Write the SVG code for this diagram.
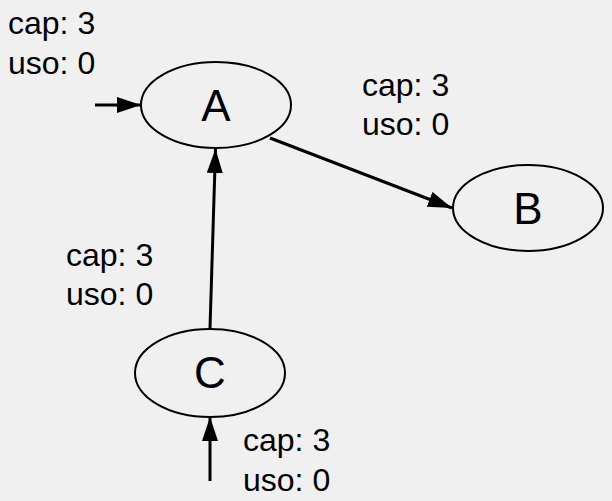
<svg xmlns="http://www.w3.org/2000/svg" width="612" height="501" viewBox="0 0 612 501">
<defs>
<style>
.node{fill:none;stroke:#000;stroke-width:2}
.lbl{font-family:"Liberation Sans",Arial,sans-serif;font-size:44px;fill:#000;text-anchor:middle}
.cap{font-family:"Liberation Sans",Arial,sans-serif;font-size:32px;fill:#000}
.edge{stroke:#000;stroke-width:3;fill:none}
</style>
<marker id="arr" markerUnits="userSpaceOnUse" markerWidth="24" markerHeight="18" refX="24" refY="8" orient="auto">
<path d="M0,0 L24,8 L0,16 Z" fill="#000"/>
</marker>
</defs>
<rect width="612" height="501" fill="#f0f0f0"/>
<g id="connectors">
<line class="edge" x1="95" y1="105" x2="141" y2="105" marker-end="url(#arr)"/>
<line class="edge" x1="270" y1="138" x2="452" y2="208" marker-end="url(#arr)"/>
<line class="edge" x1="210" y1="328" x2="215.5" y2="149" marker-end="url(#arr)"/>
<line class="edge" x1="210" y1="481" x2="210" y2="417" marker-end="url(#arr)"/>
</g>
<g id="node-A">
<ellipse class="node" cx="216" cy="105" rx="75" ry="43"/>
<text class="lbl" x="216" y="121">A</text>
</g>
<g id="node-B">
<ellipse class="node" cx="528" cy="208" rx="75" ry="43"/>
<text class="lbl" x="528" y="224">B</text>
</g>
<g id="node-C">
<ellipse class="node" cx="210" cy="373" rx="75" ry="44"/>
<text class="lbl" x="210" y="388">C</text>
</g>
<g id="labels">
<text class="cap" x="8" y="34">cap: 3</text>
<text class="cap" x="8" y="74">uso: 0</text>
<text class="cap" x="362" y="96">cap: 3</text>
<text class="cap" x="362" y="135">uso: 0</text>
<text class="cap" x="66" y="266">cap: 3</text>
<text class="cap" x="66" y="305">uso: 0</text>
<text class="cap" x="243" y="451">cap: 3</text>
<text class="cap" x="243" y="491">uso: 0</text>
</g>
</svg>
